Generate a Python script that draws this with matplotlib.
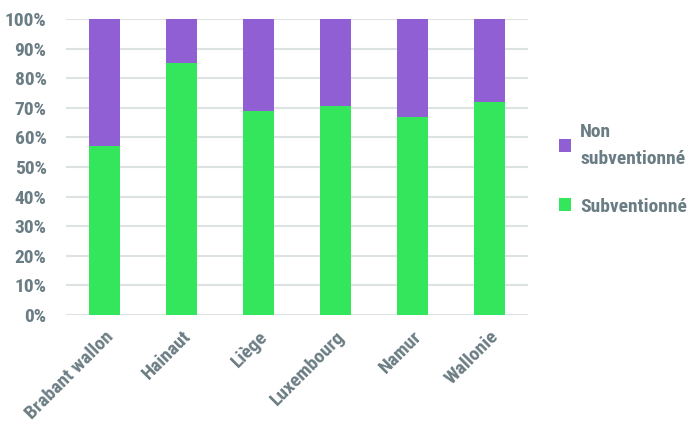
import numpy as np
import matplotlib.pyplot as plt
from matplotlib.ticker import PercentFormatter

regions = ["Brabant wallon", "Hainaut", "Liège", "Luxembourg", "Namur", "Wallonie"]
subventionne = [57, 85, 69, 70.5, 67, 72]
non_subventionne = [100 - v for v in subventionne]

green = "#33e65c"
purple = "#8f5fd3"
txt = "#6b7d84"

plt.rcParams['font.family'] = ['Roboto Condensed', 'Roboto', 'DejaVu Sans']
plt.rcParams['font.weight'] = 'heavy'

fig = plt.figure(figsize=(6.92, 4.40), dpi=100)
ax = fig.add_axes([0.0954, 0.284, 0.668, 0.673])

x = np.arange(len(regions))
ax.bar(x, subventionne, width=0.4, color=green, label="Subventionné", zorder=3)
ax.bar(x, non_subventionne, width=0.4, bottom=subventionne, color=purple,
       label="Non\nsubventionné", zorder=3)

ax.set_xlim(-0.5, len(regions) - 0.5)
ax.set_ylim(0, 100)
ax.set_yticks(np.arange(0, 101, 10))
ax.yaxis.set_major_formatter(PercentFormatter(decimals=0))
ax.grid(axis='y', color="#dde2e3", linewidth=1.5, zorder=0)
for s in ax.spines.values():
    s.set_visible(False)
ax.tick_params(length=0, labelsize=14, labelcolor=txt)
ax.tick_params(axis='y', pad=14)
ax.tick_params(axis='x', pad=9)
ax.set_xticks(x)
ax.set_xticklabels(regions, rotation=45, ha='right', rotation_mode='anchor')

h, l = ax.get_legend_handles_labels()
leg = fig.legend(h[::-1], l[::-1], loc='center left', bbox_to_anchor=(0.782, 0.615),
                 frameon=False, fontsize=14, handlelength=0.65, handleheight=0.65,
                 handletextpad=0.45, labelspacing=1.5)
for t in leg.get_texts():
    t.set_color(txt)
    t.set_linespacing(1.65)

fig.savefig("out.png", dpi=100)
